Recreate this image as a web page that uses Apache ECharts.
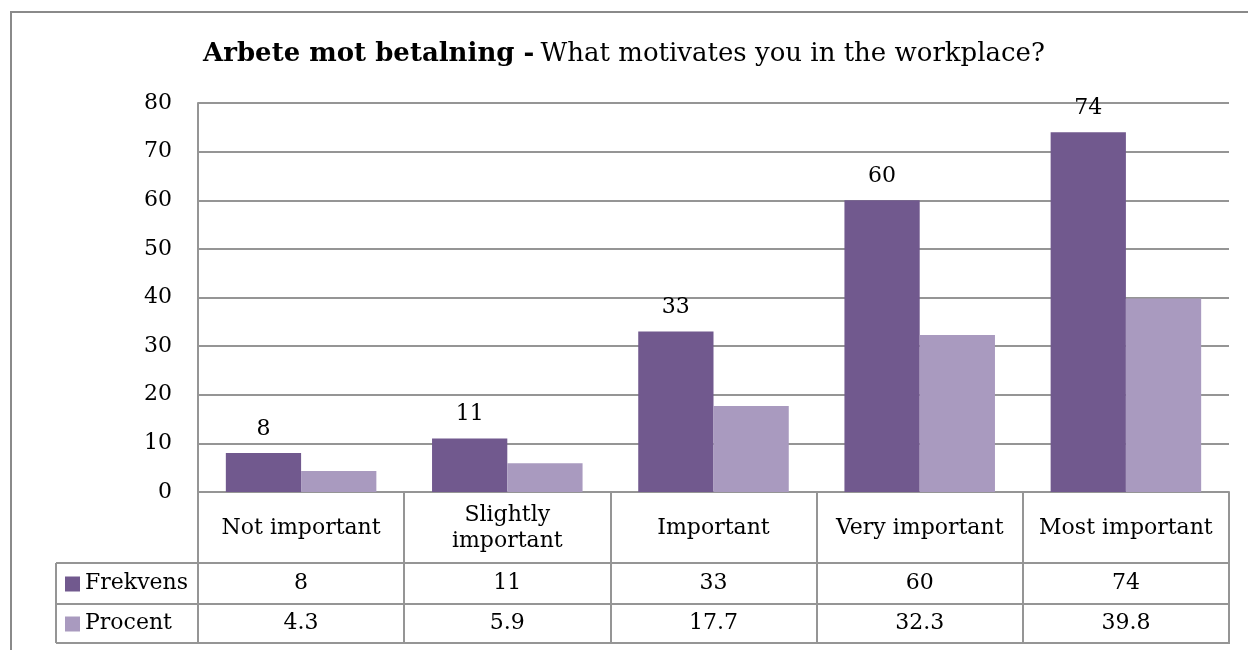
<!DOCTYPE html>
<html>
<head>
<meta charset="utf-8">
<style>
  html, body { margin: 0; padding: 0; background: #fff; }
  #chart { width: 1248px; height: 650px; }
</style>
<script src="https://cdn.jsdelivr.net/npm/echarts@6/dist/echarts.min.js"></script>
</head>
<body>
<div id="chart"></div>
<script>
// Survey answers: how important is paid work as a motivator
const categories = ['Not important', 'Slightly\nimportant', 'Important', 'Very important', 'Most important'];
const frekvens = [8, 11, 33, 60, 74];
const procent = [4.3, 5.9, 17.7, 32.3, 39.8];
const seriesNames = ['Frekvens', 'Procent'];
const yTicks = [0, 10, 20, 30, 40, 50, 60, 70, 80];

const FONT = '"DejaVu Serif", serif';
const DARK = '#71598e';
const LIGHT = '#a99abf';
const LINE = '#959595';
const LW = 2;

const chart = echarts.init(document.getElementById('chart'), null, { renderer: 'canvas' });

const gridLeft = 198, gridRight = 19, gridTop = 103, gridBottom = 158;
const tableTop = 492, rowH1 = 563, rowH2 = 604, tableBottom = 643, tableLeft = 56;

chart.setOption({
  animation: false,
  backgroundColor: '#fff',
  textStyle: { fontFamily: FONT },
  title: {
    text: '{b|Arbete mot betalning -} {r|What motivates you in the workplace?}',
    left: 'center',
    top: 36,
    textStyle: {
      rich: {
        b: { fontFamily: FONT, fontWeight: 'bold', fontSize: 26, color: '#000' },
        r: { fontFamily: FONT, fontWeight: 'normal', fontSize: 26, color: '#000' }
      }
    }
  },
  grid: { left: gridLeft, right: gridRight, top: gridTop, bottom: gridBottom, containLabel: false },
  xAxis: {
    type: 'category',
    data: categories,
    axisLine: { show: true, lineStyle: { color: LINE, width: LW } },
    axisTick: { show: true, inside: false, length: tableBottom - tableTop, lineStyle: { color: LINE, width: LW } },
    axisLabel: {
      interval: 0,
      margin: 36,
      verticalAlign: 'middle',
      fontFamily: FONT,
      fontSize: 22,
      lineHeight: 26,
      color: '#000'
    }
  },
  yAxis: {
    type: 'value',
    min: yTicks[0],
    max: yTicks[yTicks.length - 1],
    interval: yTicks[1] - yTicks[0],
    axisLine: { show: true, lineStyle: { color: LINE, width: LW } },
    axisTick: { show: false },
    splitLine: { show: true, lineStyle: { color: LINE, width: LW } },
    axisLabel: { margin: 26, fontFamily: FONT, fontSize: 22, color: '#000' }
  },
  series: [
    {
      name: seriesNames[0],
      type: 'bar',
      data: frekvens,
      barGap: '0%',
      barCategoryGap: '27%',
      itemStyle: { color: DARK },
      label: { show: true, position: 'top', distance: 13, fontFamily: FONT, fontSize: 22, color: '#000' }
    },
    {
      name: seriesNames[1],
      type: 'bar',
      data: procent,
      barGap: '0%',
      barCategoryGap: '27%',
      itemStyle: { color: LIGHT }
    }
  ]
});

// Data table under the plot: rows of values aligned with the category axis
function drawTable() {
  const g = [];
  const right = chart.getWidth() - gridRight;
  // outer frame
  g.push({ type: 'rect', shape: { x: 11, y: 12, width: 1400, height: 800 },
           style: { fill: null, stroke: '#8a8a8a', lineWidth: 2 }, silent: true, z: 0 });
  // horizontal rules
  [rowH1, rowH2, tableBottom].forEach(function (y) {
    g.push({ type: 'line', shape: { x1: tableLeft, y1: y, x2: right + 1, y2: y },
             style: { stroke: LINE, lineWidth: LW }, silent: true });
  });
  // left edge of the legend column
  g.push({ type: 'line', shape: { x1: tableLeft, y1: rowH1, x2: tableLeft, y2: tableBottom },
           style: { stroke: LINE, lineWidth: LW }, silent: true });

  const rows = [
    { name: seriesNames[0], color: DARK, values: frekvens, cy: (rowH1 + rowH2) / 2 },
    { name: seriesNames[1], color: LIGHT, values: procent, cy: (rowH2 + tableBottom) / 2 }
  ];
  rows.forEach(function (r) {
    g.push({ type: 'rect', shape: { x: 65, y: r.cy - 7, width: 15, height: 15 },
             style: { fill: r.color }, silent: true });
    g.push({ type: 'text', x: 85, y: r.cy,
             style: { text: r.name, font: '22px ' + FONT, fill: '#000', textAlign: 'left', textVerticalAlign: 'middle' },
             silent: true });
    r.values.forEach(function (v, i) {
      const cx = chart.convertToPixel({ xAxisIndex: 0 }, i);
      g.push({ type: 'text', x: cx, y: r.cy,
               style: { text: String(v), font: '22px ' + FONT, fill: '#000', textAlign: 'center', textVerticalAlign: 'middle' },
               silent: true });
    });
  });
  chart.setOption({ graphic: g });
}
drawTable();
</script>
</body>
</html>
